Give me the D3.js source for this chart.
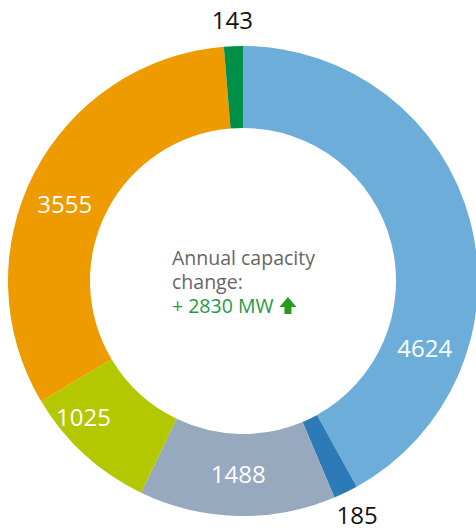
<!DOCTYPE html>
<html>
<head>
<meta charset="utf-8">
<script src="https://cdn.jsdelivr.net/npm/d3@7"></script>
<style>
  html, body { margin: 0; padding: 0; background: #fff; }
  svg { display: block; font-family: "Open Sans", "Noto Sans", sans-serif; }
</style>
</head>
<body>
<svg id="chart" width="476" height="529"></svg>
<script>
// ---- data ----
const categories = ["Segment A", "Segment B", "Segment C", "Segment D", "Segment E", "Segment F"];
const values = [4624, 185, 1488, 1025, 3555, 143];
const colors = ["#6caed9", "#2c7bb6", "#96a9be", "#b3c800", "#ee9b00", "#008f48"];
const centerLines = ["Annual capacity", "change:"];
const centerValue = "+ 2830 MW";

// ---- layout ----
const W = 476, H = 529;
const cx = 243, cy = 281;
const rOuter = 235, rInner = 153;

const svg = d3.select("#chart");
const g = svg.append("g").attr("transform", `translate(${cx},${cy})`);

const data = categories.map((c, i) => ({ cat: c, value: values[i], color: colors[i] }));

const pie = d3.pie().value(d => d.value).sort(null).startAngle(0).endAngle(2 * Math.PI);
const arcs = pie(data);

const arc = d3.arc().innerRadius(rInner).outerRadius(rOuter);

g.selectAll("path.slice")
  .data(arcs)
  .enter().append("path")
  .attr("class", "slice")
  .attr("d", arc)
  .attr("fill", d => d.data.color);

// label placement: slices too thin get label outside
const deg = Math.PI / 180;
const labelShift = { 0: 35 * deg, 3: 7 * deg, 4: -4 * deg };
arcs.forEach((d, i) => {
  const span = d.endAngle - d.startAngle;
  const outside = span < 10 * deg;
  const r = outside ? 261 : (rInner + rOuter) / 2 + (i === 3 ? 16 : 0);
  const a = (d.startAngle + d.endAngle) / 2 + (labelShift[i] || 0);
  const x = r * Math.sin(a), y = -r * Math.cos(a);
  g.append("text")
    .attr("x", x)
    .attr("y", y)
    .attr("dy", "0.35em")
    .attr("text-anchor", "middle")
    .attr("font-size", 24)
    .attr("fill", outside ? "#111" : "#fff")
    .text(d3.format("d")(d.data.value));
});

// centre text
const tx = -71;
centerLines.forEach((t, i) => {
  g.append("text")
    .attr("x", tx)
    .attr("y", -16 + i * 24)
    .attr("font-size", 19.5)
    .attr("fill", "#666")
    .text(t);
});
const valText = g.append("text")
  .attr("x", tx)
  .attr("y", 32)
  .attr("font-size", 19.5)
  .attr("fill", "#1f9a48")
  .text(centerValue);
const bb = valText.node().getBBox();
const ax = bb.x + bb.width + 6, ay = 32;
// up arrow
g.append("path")
  .attr("d", `M${ax + 8.5},${ay - 16} L${ax + 17},${ay - 6} L${ax + 12},${ay - 6} L${ax + 12},${ay + 1} L${ax + 5},${ay + 1} L${ax + 5},${ay - 6} L${ax},${ay - 6} Z`)
  .attr("fill", "#2a9a1c");
</script>
</body>
</html>
